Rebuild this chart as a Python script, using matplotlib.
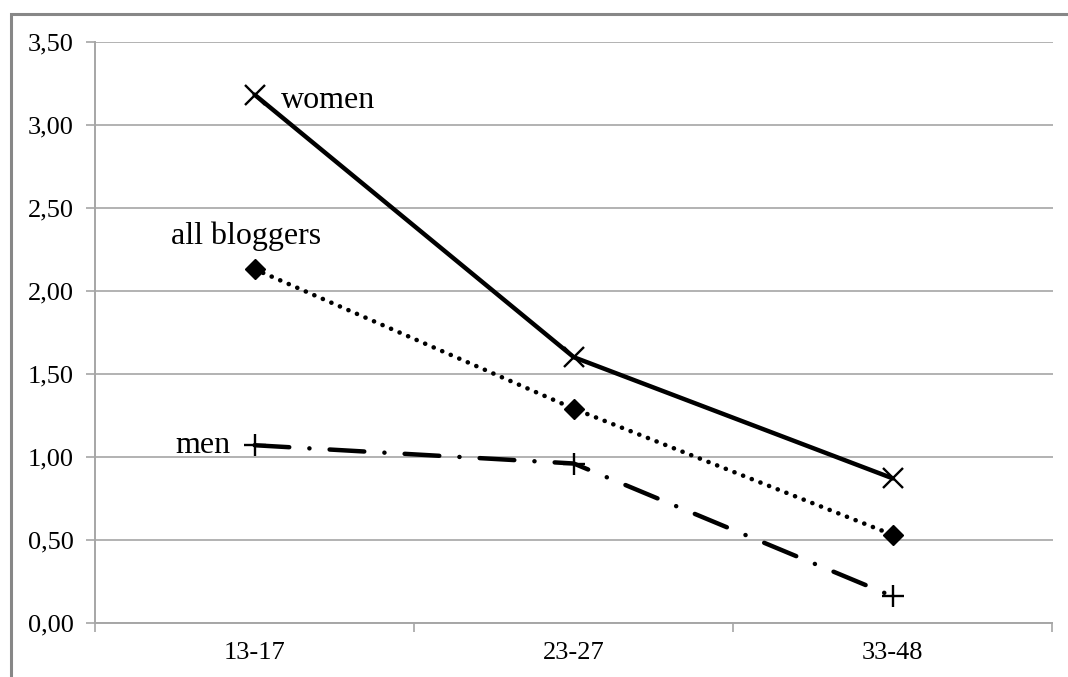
import matplotlib
matplotlib.use("Agg")
import matplotlib.pyplot as plt
from matplotlib.patches import Rectangle
from matplotlib.ticker import FixedLocator

plt.rcParams['font.family'] = ['Liberation Serif', 'DejaVu Serif']
plt.rcParams['lines.scale_dashes'] = False

categories = ['13-17', '23-27', '33-48']
women = [3.18, 1.60, 0.87]
all_bloggers = [2.13, 1.29, 0.53]
men = [1.07, 0.96, 0.16]
ytick_values = [0.0, 0.5, 1.0, 1.5, 2.0, 2.5, 3.0, 3.5]
ytick_labels = ['0,00', '0,50', '1,00', '1,50', '2,00', '2,50', '3,00', '3,50']
series_labels = ['women', 'all bloggers', 'men']

W, H = 1068, 677
fig = plt.figure(figsize=(W / 100, H / 100), dpi=100)
ax = fig.add_axes([95 / W, 1 - 623 / H, (1052.5 - 95) / W, (623 - 41.5) / H])

grid_c = '#a6a6a6'
x = list(range(len(categories)))

ax.plot(x, women, color='black', lw=3.2, marker='x', markersize=15,
        markeredgewidth=1.7, solid_capstyle='round', zorder=3)
ax.plot(x, all_bloggers, color='black', lw=3.3, linestyle=(0, (0.1, 6.6)),
        dash_capstyle='round', marker='D', markersize=10, zorder=3)
ax.plot(x, men, color='black', lw=3.2, linestyle=(0, (25, 14.5, 0.1, 14.5)),
        dash_capstyle='round', marker='+', markersize=16,
        markeredgewidth=1.7, zorder=3)

lfs = 23
ax.annotate(series_labels[0], (0, women[0]), xytext=(26, -6),
            textcoords='offset pixels', ha='left', va='center', fontsize=lfs)
ax.annotate(series_labels[1], (0, all_bloggers[0]), xytext=(-9, 33),
            textcoords='offset pixels', ha='center', va='center', fontsize=lfs)
ax.annotate(series_labels[2], (0, men[0]), xytext=(-24, 0),
            textcoords='offset pixels', ha='right', va='center', fontsize=lfs)

fs = 19
ax.set_xlim(-0.5, len(categories) - 0.5)
ax.set_ylim(0, 3.5)
ax.set_xticks(x)
ax.set_xticklabels(categories, fontsize=fs)
ax.xaxis.set_minor_locator(FixedLocator([i - 0.5 for i in range(len(categories) + 1)]))
ax.tick_params(axis='x', which='major', length=0, pad=14)
ax.tick_params(axis='x', which='minor', length=6.5, width=1.2, color=grid_c, direction='out')
ax.set_yticks(ytick_values)
ax.set_yticklabels(ytick_labels, fontsize=fs)
ax.tick_params(axis='y', length=6.5, width=1.2, color=grid_c, pad=9)

ax.grid(axis='y', color=grid_c, lw=1.2)
ax.set_axisbelow(True)
for s in ['top', 'right']:
    ax.spines[s].set_visible(False)
for s in ['left', 'bottom']:
    ax.spines[s].set_color(grid_c)
    ax.spines[s].set_linewidth(1.4)

fig.patches.append(Rectangle((10.5 / W, -0.1), 1.2, 1 - 13.5 / H + 0.1,
                             transform=fig.transFigure, fill=False,
                             edgecolor='#878787', lw=2.2))

fig.savefig('out.png', dpi=100)
